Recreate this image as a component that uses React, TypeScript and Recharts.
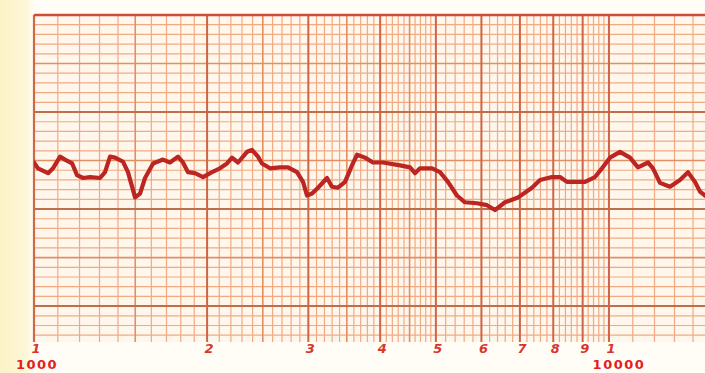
import { ComposedChart, Line, XAxis, YAxis, ReferenceLine, ReferenceArea } from "recharts";

// frequency (Hz), level in paper units (major line every 10)
const freqs = [
  1000, 1016, 1058, 1079, 1110, 1132, 1165, 1188, 1217, 1252, 1303, 1329, 1356, 1383, 1428, 1457,
  1499, 1529, 1560, 1611, 1676, 1724, 1780, 1816, 1853, 1905, 1968, 2040, 2106, 2166, 2210, 2264,
  2347, 2394, 2452, 2492, 2573, 2678, 2766, 2867, 2937, 2984, 3045, 3119, 3233, 3298, 3379, 3475,
  3573, 3646, 3764, 3887, 4046, 4331, 4508, 4599, 4692, 4923, 5083, 5248, 5440, 5618, 5894, 6135,
  6335, 6594, 6946, 7347, 7586, 7959, 8219, 8452, 8658, 9084, 9455, 9724, 10040, 10450, 10878,
  11232, 11691, 11928, 12267, 12768, 13290, 13723, 14113, 14399, 14690,
];
const levels = [
  14.8, 14.2, 13.7, 14.2, 15.4, 15.1, 14.7, 13.5, 13.2, 13.3, 13.2, 13.8, 15.4, 15.3, 14.9, 13.8,
  11.2, 11.6, 13.2, 14.7, 15.1, 14.8, 15.4, 14.8, 13.8, 13.7, 13.3, 13.8, 14.2, 14.7, 15.3, 14.8,
  15.9, 16.1, 15.4, 14.7, 14.2, 14.3, 14.3, 13.8, 12.8, 11.4, 11.6, 12.2, 13.2, 12.3, 12.2, 12.8,
  14.5, 15.6, 15.3, 14.8, 14.8, 14.5, 14.3, 13.7, 14.2, 14.2, 13.8, 12.8, 11.4, 10.7, 10.6, 10.4,
  9.9, 10.7, 11.2, 12.2, 13.0, 13.3, 13.3, 12.8, 12.8, 12.8, 13.3, 14.2, 15.3, 15.9, 15.3,
  14.3, 14.8, 14.2, 12.7, 12.3, 13.0, 13.8, 12.8, 11.8, 11.4,
];

const tickFreqs = [1000, 2000, 3000, 4000, 5000, 6000, 7000, 8000, 9000, 10000];
const tickDigits = ["1", "2", "3", "4", "5", "6", "7", "8", "9", "1"];
const decadeLabels: Record<number, string> = { 1000: "1000", 10000: "10000" };

// graph paper rulings
const majorFreqs = [2000, 3000, 4000, 5000, 6000, 7000, 8000, 9000, 10000];
const mediumFreqs = [1500, 2500, 3500, 4500];
const minorFreqs: number[] = [];
for (let f = 1100; f < 2000; f += 100) if (f !== 1500) minorFreqs.push(f);
for (let f = 2100; f < 5000; f += 100) if (f % 500 !== 0) minorFreqs.push(f);
for (let f = 5200; f < 10000; f += 200) if (f % 1000 !== 0) minorFreqs.push(f);
for (let f = 11000; f < 15000; f += 1000) minorFreqs.push(f);

const majorLevels = [0, 10, 20];
const mediumLevels = [-5, 5, 15, 25];
const minorLevels: number[] = [];
for (let v = -3; v < 30; v += 1) if (v % 5 !== 0) minorLevels.push(v);

const data = freqs.map((f, i) => ({ f, level: levels[i] }));

const W = 705;
const H = 373;
const F_MIN = 1000;
const F_MAX = 14690;

function FreqTick(props: any) {
  const { x, y, payload, index } = props;
  const f = payload.value as number;
  const digit = tickDigits[index] ?? "";
  const decade = decadeLabels[f];
  return (
    <g>
      <text x={x + 2} y={y + 11} textAnchor="middle" fill="#d8362c" fontSize={13} fontStyle="italic" fontWeight="bold" fontFamily="'DejaVu Sans', sans-serif">
        {digit}
      </text>
      {decade && (
        <text x={x + (f === 1000 ? 3 : 10)} y={y + 27} textAnchor="middle" fill="#e4201c" fontSize={13} fontWeight="bold" fontFamily="'DejaVu Sans', sans-serif" letterSpacing={1.5}>
          {decade}
        </text>
      )}
    </g>
  );
}

export default function App() {
  return (
    <div style={{ position: "fixed", left: 0, top: 0, width: W, height: H, background: "linear-gradient(90deg, #fcf2c6 0px, #fdf6d8 26px, #fffdf6 34px)" }}>
      <ComposedChart width={W} height={H} data={data} margin={{ top: 15, right: 0, bottom: 0, left: 34 }}>
        <XAxis
          dataKey="f"
          type="number"
          scale="log"
          domain={[F_MIN, F_MAX]}
          allowDataOverflow
          ticks={tickFreqs}
          tick={<FreqTick />}
          tickLine={false}
          axisLine={false}
          tickSize={0}
          tickMargin={0}
          height={31}
          interval={0}
        />
        <YAxis type="number" domain={[-3.7, 30]} allowDataOverflow hide />
        <ReferenceArea x1={F_MIN} x2={F_MAX} y1={-3.7} y2={30} fill="#fff6ec" fillOpacity={1} stroke="none" />
        {minorLevels.map((v) => (
          <ReferenceLine key={"hm" + v} y={v} stroke="#f0aa84" strokeWidth={1.2} />
        ))}
        {minorFreqs.map((f) => (
          <ReferenceLine key={"vm" + f} x={f} stroke="#f0aa84" strokeWidth={1.2} />
        ))}
        {mediumLevels.map((v) => (
          <ReferenceLine key={"hd" + v} y={v} stroke="#e48e64" strokeWidth={1.6} />
        ))}
        {mediumFreqs.map((f) => (
          <ReferenceLine key={"vd" + f} x={f} stroke="#e48e64" strokeWidth={1.6} />
        ))}
        {majorLevels.map((v) => (
          <ReferenceLine key={"hM" + v} y={v} stroke="#bf6e4a" strokeWidth={2} />
        ))}
        {majorFreqs.map((f) => (
          <ReferenceLine key={"vM" + f} x={f} stroke="#cf6546" strokeWidth={2} />
        ))}
        <ReferenceLine x={F_MIN} stroke="#cf6a48" strokeWidth={2.2} />
        <ReferenceLine y={30} stroke="#d24a38" strokeWidth={2.5} />
        <Line
          type="linear"
          dataKey="level"
          stroke="#bb2622"
          strokeWidth={4.2}
          strokeLinejoin="round"
          strokeLinecap="round"
          dot={false}
          isAnimationActive={false}
        />
      </ComposedChart>
    </div>
  );
}
